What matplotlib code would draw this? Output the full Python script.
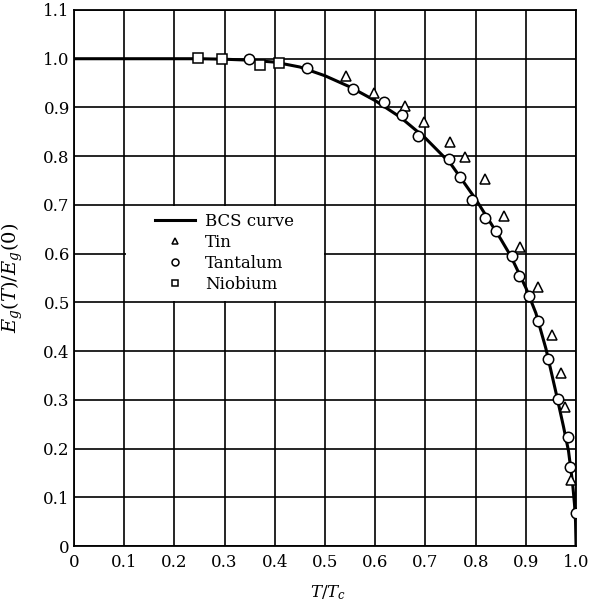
import matplotlib
matplotlib.use("Agg")
import matplotlib.pyplot as plt
from matplotlib.lines import Line2D
from matplotlib.patches import Rectangle

plt.rcParams['font.family'] = ['DejaVu Serif']
plt.rcParams['mathtext.fontset'] = 'dejavuserif'

# BCS curve
bcs_t = [0.0, 0.25, 0.30, 0.35, 0.40, 0.45, 0.50, 0.55, 0.60, 0.65, 0.70, 0.75,
         0.80, 0.85, 0.87, 0.90, 0.92, 0.94, 0.96, 0.975, 0.985, 0.993, 0.997, 0.999, 1.0]
bcs_gap = [1.0, 1.0, 0.999, 0.997, 0.993, 0.983, 0.965, 0.942, 0.914, 0.880, 0.837, 0.785,
           0.712, 0.630, 0.595, 0.530, 0.478, 0.405, 0.315, 0.245, 0.195, 0.130, 0.085, 0.05, 0.0]

# measured points
tin_t = [0.542, 0.598, 0.659, 0.698, 0.749, 0.779, 0.819, 0.857, 0.889, 0.924, 0.952, 0.970, 0.978, 0.990]
tin_gap = [0.964, 0.930, 0.902, 0.870, 0.830, 0.799, 0.754, 0.678, 0.613, 0.531, 0.433, 0.356, 0.286, 0.136]

ta_t = [0.349, 0.464, 0.556, 0.617, 0.653, 0.686, 0.747, 0.769, 0.793, 0.819, 0.840, 0.873,
        0.887, 0.906, 0.925, 0.944, 0.964, 0.983, 0.988, 0.999]
ta_gap = [0.999, 0.980, 0.938, 0.911, 0.884, 0.842, 0.795, 0.758, 0.710, 0.673, 0.646, 0.595,
          0.554, 0.513, 0.462, 0.384, 0.301, 0.223, 0.163, 0.068]

nb_t = [0.248, 0.295, 0.371, 0.408]
nb_gap = [1.002, 1.0, 0.988, 0.991]

xticks = [0, 0.1, 0.2, 0.3, 0.4, 0.5, 0.6, 0.7, 0.8, 0.9, 1.0]
xlabels = ['0', '0.1', '0.2', '0.3', '0.4', '0.5', '0.6', '0.7', '0.8', '0.9', '1.0']
yticks = [0, 0.1, 0.2, 0.3, 0.4, 0.5, 0.6, 0.7, 0.8, 0.9, 1.0, 1.1]
ylabels = ['0', '0.1', '0.2', '0.3', '0.4', '0.5', '0.6', '0.7', '0.8', '0.9', '1.0', '1.1']

fig = plt.figure(figsize=(5.89, 6.06), dpi=100)
ax = fig.add_axes([0.1256, 0.099, 0.8524, 0.8845])

ax.set_xlim(0, 1.0)
ax.set_ylim(0, 1.1)
ax.set_xticks(xticks)
ax.set_xticklabels(xlabels)
ax.set_yticks(yticks)
ax.set_yticklabels(ylabels)
ax.tick_params(length=0, labelsize=12, colors='black')
ax.tick_params(axis='x', pad=6)
ax.tick_params(axis='y', pad=3)
ax.set_axisbelow(True)
ax.grid(True, color='black', linewidth=1.2)
for s in ax.spines.values():
    s.set_linewidth(1.3)

# white background behind the legend (covers a block of grid cells)
ax.add_patch(Rectangle((0.103, 0.503), 0.394, 0.194, facecolor='white',
                       edgecolor='none', zorder=1))

ax.plot(bcs_t, bcs_gap, color='black', linewidth=2.2, zorder=2)
mk = dict(linestyle='none', markerfacecolor='white', markeredgecolor='black',
          markeredgewidth=1.1, zorder=3)
ax.plot(tin_t, tin_gap, marker='^', markersize=7.5, **mk)
ax.plot(ta_t, ta_gap, marker='o', markersize=7.5, **mk)
ax.plot(nb_t, nb_gap, marker='s', markersize=6.5, **mk)

handles = [
    Line2D([], [], color='black', linewidth=2.2),
    Line2D([], [], marker='^', markersize=5, **mk),
    Line2D([], [], marker='o', markersize=5, **mk),
    Line2D([], [], marker='s', markersize=4.5, **mk),
]
ax.legend(handles, ['BCS curve', 'Tin', 'Tantalum', 'Niobium'],
          loc='upper left', bbox_to_anchor=(0.145, 0.701), bbox_transform=ax.transData,
          frameon=False, fontsize=12, handlelength=2.4, handletextpad=0.6,
          labelspacing=0.25, borderpad=0)

ax.set_xlabel('$T/T_c$', fontsize=12)
ax.set_ylabel('$E_g(T)/E_g(0)$', fontsize=14)
ax.xaxis.set_label_coords(0.506, -0.07)
ax.yaxis.set_label_coords(-0.098, 0.5)

fig.savefig('out.png', dpi=100)
